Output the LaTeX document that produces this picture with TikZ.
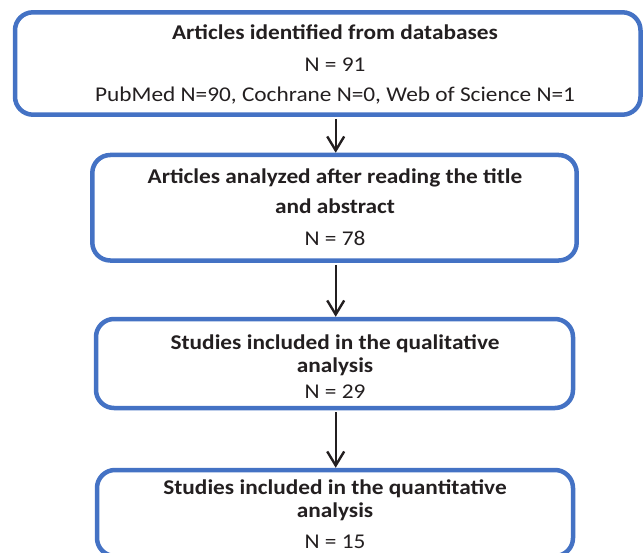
\documentclass[tikz,border=0pt]{standalone}
\usepackage{fontspec}
\setmainfont{Carlito}[FakeStretch=1.11]
\usetikzlibrary{arrows.meta}
\definecolor{boxblue}{RGB}{68,114,196}
\definecolor{txt}{RGB}{35,31,32}
\tikzset{
  flowbox/.style={draw=boxblue, line width=4.5pt, rounded corners=18pt, inner sep=0pt, fill=none},
  line/.style={anchor=base, inner sep=0pt, text=txt, font=\fontsize{21}{25}\selectfont},
  bline/.style={line, font=\fontsize{21}{25}\selectfont\bfseries},
  flowarrow/.style={draw=txt, line width=2.4pt, -{Straight Barb[length=14pt,width=17pt,line width=2.4pt]}}
}
\begin{document}
\begin{tikzpicture}[x=1pt,y=-1pt]
\useasboundingbox (0,0) rectangle (644,553);
% boxes
\node[flowbox, minimum width=625.5pt, minimum height=102.4pt] (b1) at (327.75,63.5) {};
\node[flowbox, minimum width=484.4pt, minimum height=105.5pt] (b2) at (334.5,207.75) {};
\node[flowbox, minimum width=477pt, minimum height=89pt] (b3) at (334.5,363.5) {};
\node[flowbox, minimum width=476pt, minimum height=86pt] (b4) at (335,513) {};
% arrow axis
\coordinate (ax) at (335.7,0);
% arrows
\draw[flowarrow, shorten <=2pt] (b1.south -| ax) -- (b2.north -| ax);
\draw[flowarrow, shorten <=2pt] (b2.south -| ax) -- (b3.north -| ax);
\draw[flowarrow, shorten <=2pt] (b3.south -| ax) -- (b4.north -| ax);
% texts box 1
\node[bline] (t1a) at (335,40) {Articles identified from databases};
\node[line] (t1b) at (335,72) {N = 91};
\node[line] (t1c) at (335,102) {PubMed N=90, Cochrane N=0, Web of Science N=1};
% box 2
\node[bline] (t2a) at (335,184) {Articles analyzed after reading the title};
\node[bline] (t2b) at (335,214) {and abstract};
\node[line] (t2c) at (335,245) {N = 78};
% box 3
\node[bline] (t3a) at (335,349) {Studies included in the qualitative};
\node[bline] (t3b) at (335,372) {analysis};
\node[line] (t3c) at (335,398) {N = 29};
% box 4
\node[bline] (t4a) at (335,494) {Studies included in the quantitative};
\node[bline] (t4b) at (335,517) {analysis};
\node[line] (t4c) at (335,548) {N = 15};
\end{tikzpicture}
\end{document}
